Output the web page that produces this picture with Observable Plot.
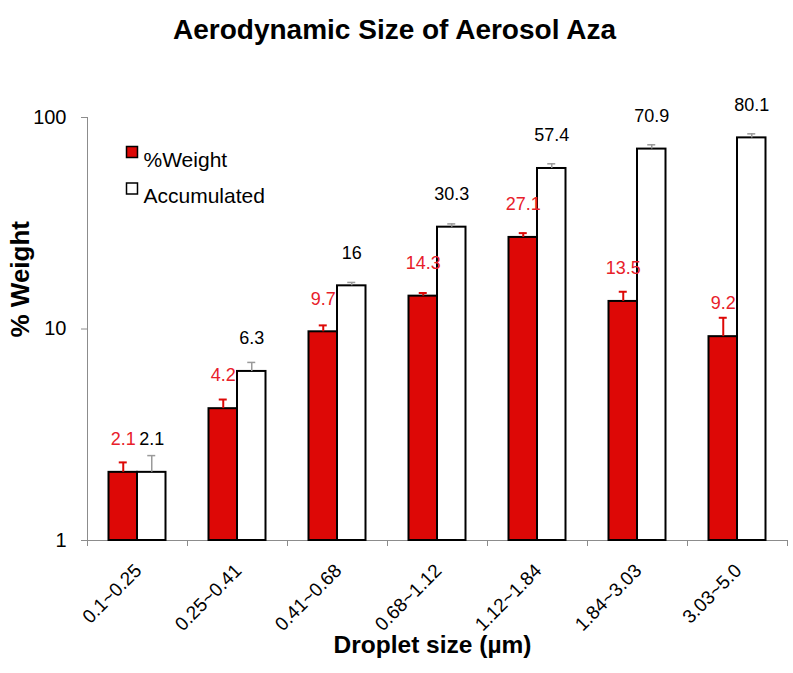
<!DOCTYPE html>
<html>
<head>
<meta charset="utf-8">
<script src="https://cdn.jsdelivr.net/npm/d3@7"></script>
<script src="https://cdn.jsdelivr.net/npm/@observablehq/plot@0.6"></script>
<style>
  html, body { margin: 0; padding: 0; background: #fff; }
  #chart { width: 793px; height: 673px; }
</style>
</head>
<body>
<div id="chart"></div>
<script>
const categories = ["0.1~0.25", "0.25~0.41", "0.41~0.68", "0.68~1.12", "1.12~1.84", "1.84~3.03", "3.03~5.0"];
const weight = [2.1, 4.2, 9.7, 14.3, 27.1, 13.5, 9.2];
const weightErr = [0.24, 0.44, 0.7, 0.5, 1.3, 1.5, 2.1];
const accumulated = [2.1, 6.3, 16, 30.3, 57.4, 70.9, 80.1];
const accumulatedErr = [0.42, 0.65, 0.6, 1.1, 3.0, 3.4, 3.6];
const yTicks = [1, 10, 100];
const seriesNames = ["%Weight", "Accumulated"];
const titleText = "Aerodynamic Size of Aerosol Aza";
const xTitle = "Droplet size (µm)";
const yTitle = "% Weight";

const rows = categories.map((c, i) => ({
  cat: c,
  weight: weight[i], weightTop: weight[i] + weightErr[i],
  accum: accumulated[i], accumTop: accumulated[i] + accumulatedErr[i],
  base: yTicks[0]
}));

const RED = "#dd0806";
const LABEL_RED = "#e8202a";
const FONT = "'Liberation Sans', Arial, sans-serif";

const chart = Plot.plot({
  width: 793,
  height: 673,
  marginTop: 117,
  marginBottom: 133,
  marginLeft: 87,
  marginRight: 6,
  style: { fontFamily: FONT, fontSize: "18px", background: "#fff", color: "black" },
  x: { domain: categories, padding: 0, axis: null, label: null },
  y: { type: "log", domain: [yTicks[0], yTicks[yTicks.length - 1]], axis: null, label: null },
  marks: [
    // axes lines
    Plot.ruleY([yTicks[0]], { stroke: "#8c8c8c", strokeWidth: 1 }),
    Plot.frame({ anchor: "left", stroke: "#8c8c8c", strokeWidth: 1 }),
    Plot.axisY({ ticks: yTicks, tickSize: 6, tickPadding: 15, fontSize: 20, tickFormat: d => String(d), stroke: "#8c8c8c", fill: "black", label: null }),
    // category boundary ticks
    Plot.axisX({ tickSize: 6, tickFormat: () => "", dx: -50, stroke: "#8c8c8c", label: null }),
    Plot.axisX([categories[categories.length - 1]], { tickSize: 6, tickFormat: () => "", dx: 50, stroke: "#8c8c8c", label: null }),
    // category labels
    Plot.axisX({ tickSize: 0, tickPadding: 27, dx: 1, tickRotate: -45, fontSize: 19, fill: "black", label: null }),
    // bars
    Plot.barY(rows, { x: "cat", y1: "base", y2: "weight", fill: RED, stroke: "black", strokeWidth: 2, insetLeft: 21.5, insetRight: 50 }),
    Plot.barY(rows, { x: "cat", y1: "base", y2: "accum", fill: "white", stroke: "black", strokeWidth: 2, insetLeft: 50, insetRight: 21.5 }),
    // error bars
    Plot.ruleX(rows, { x: "cat", y1: "weight", y2: "weightTop", dx: -14.25, stroke: RED, strokeWidth: 2 }),
    Plot.tickY(rows, { x: "cat", y: "weightTop", insetLeft: 31.75, insetRight: 60.25, stroke: RED, strokeWidth: 2 }),
    Plot.ruleX(rows, { x: "cat", y1: "accum", y2: "accumTop", dx: 14.25, stroke: "#9a9a9a", strokeWidth: 1.5 }),
    Plot.tickY(rows, { x: "cat", y: "accumTop", insetLeft: 60.25, insetRight: 31.75, stroke: "#9a9a9a", strokeWidth: 1.5 }),
    // value labels
    Plot.text(rows, { x: "cat", y: "weight", text: d => String(d.weight), dx: -14.25, dy: -33, fill: LABEL_RED, fontSize: 18 }),
    Plot.text(rows, { x: "cat", y: "accum", text: d => String(d.accum), dx: 14.25, dy: -33, fill: "black", fontSize: 18 }),
    // legend
    Plot.dot([seriesNames[0]], { frameAnchor: "top-left", dx: 44.5, dy: 34.5, symbol: "square", r: 6.2, fill: RED, stroke: "black", strokeWidth: 1.5 }),
    Plot.text([seriesNames[0]], { frameAnchor: "top-left", dx: 56, dy: 35, text: d => d, textAnchor: "start", fontSize: 21, fill: "black" }),
    Plot.dot([seriesNames[1]], { frameAnchor: "top-left", dx: 44.5, dy: 71, symbol: "square", r: 6.2, fill: "white", stroke: "black", strokeWidth: 1.5 }),
    Plot.text([seriesNames[1]], { frameAnchor: "top-left", dx: 56, dy: 71, text: d => d, textAnchor: "start", fontSize: 21, fill: "black" }),
    // titles
    Plot.text([titleText], { frameAnchor: "top", dx: -43, dy: -98, text: d => d, fontSize: 28, fontWeight: "bold", fill: "black" }),
    Plot.text([yTitle], { frameAnchor: "left", dx: -67, dy: 8.5, rotate: -90, text: d => d, fontSize: 26, fontWeight: "bold", fill: "black" }),
    Plot.text([xTitle], { frameAnchor: "bottom", dx: -5, dy: 112, text: d => d, fontSize: 24.5, fontWeight: "bold", fill: "black" })
  ]
});

document.getElementById("chart").appendChild(chart);
</script>
</body>
</html>
